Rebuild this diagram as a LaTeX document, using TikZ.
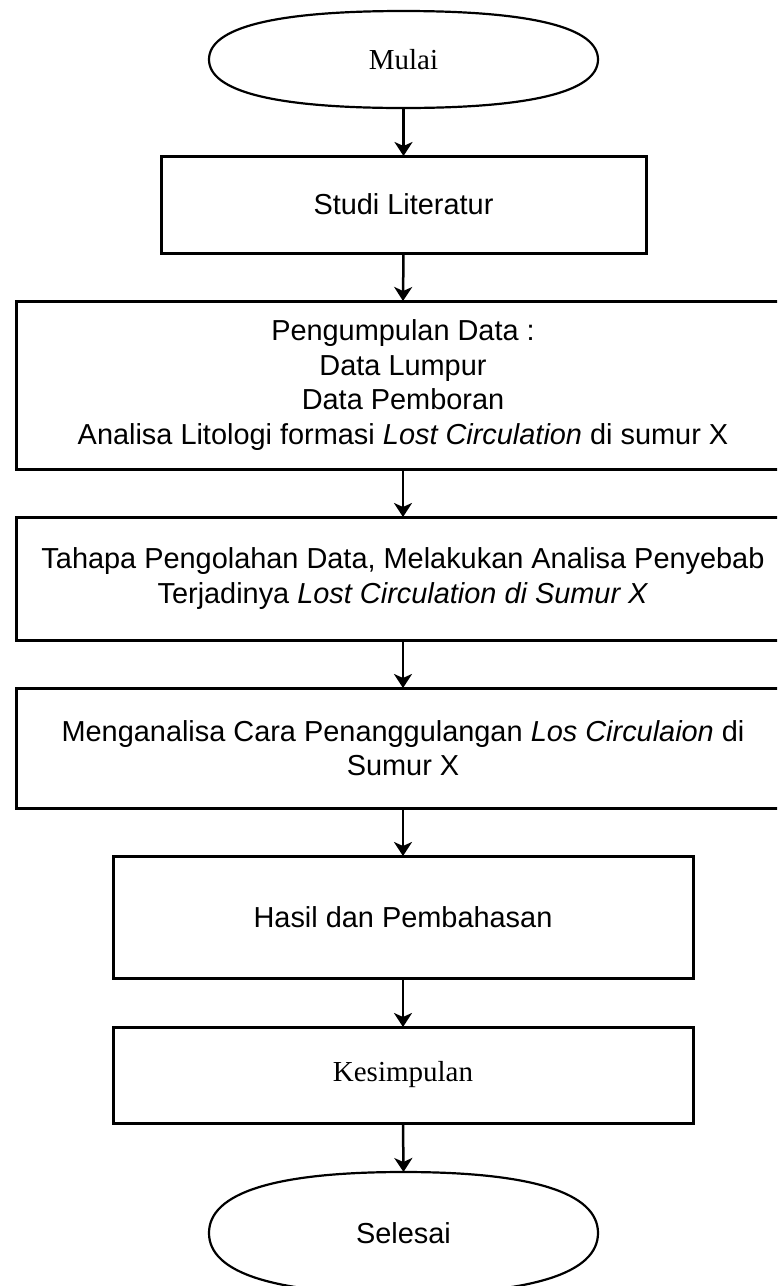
\documentclass[tikz,border=0pt]{standalone}
\usepackage{fontspec}
\setmainfont{Liberation Sans}
\newfontfamily\serifrm{Liberation Serif}
\usetikzlibrary{calc,arrows.meta}
\newcommand{\termshape}[1]{%
  \draw[termline] (#1.west)
    .. controls ($(#1.west)!0.66!(#1.north west)$) and ($(#1.north)!0.66!(#1.north west)$) .. (#1.north)
    .. controls ($(#1.north)!0.66!(#1.north east)$) and ($(#1.east)!0.66!(#1.north east)$) .. (#1.east)
    .. controls ($(#1.east)!0.66!(#1.south east)$) and ($(#1.south)!0.66!(#1.south east)$) .. (#1.south)
    .. controls ($(#1.south)!0.66!(#1.south west)$) and ($(#1.west)!0.66!(#1.south west)$) .. cycle;}
\tikzset{
  txt/.style={font=\fontsize{28.9}{34.5}\selectfont, align=center, inner sep=0pt, outer sep=0pt},
  stepbox/.style={txt, draw=black, line width=3pt, rectangle},
  termbox/.style={txt, rectangle, draw=none, minimum width=389pt},
  termline/.style={draw=black, line width=2.2pt},
  arr/.style={draw=black, line width=2.5pt, -{Stealth[length=14pt,width=18pt,inset=4pt]}}
}
\begin{document}
\begin{tikzpicture}[x=1pt,y=-1pt]
\useasboundingbox (0,0) rectangle (777,1286);
\clip (0,0) rectangle (777,1286);
\fill[white] (0,0) rectangle (777,1286);

\node[termbox, minimum height=97pt] (mulai) at (403.5,59.5) {\serifrm\fontsize{29}{34}\selectfont Mulai};
\termshape{mulai}

\node[stepbox, minimum width=485pt, minimum height=97pt] (studi) at (403.5,204.5) {Studi Literatur};

\node[stepbox, minimum width=774pt, minimum height=168pt] (data) at (403,385)
  {Pengumpulan Data :\\Data Lumpur\\Data Pemboran\\Analisa Litologi formasi \textit{Lost Circulation} di sumur X};

\node[stepbox, minimum width=774pt, minimum height=123pt] (olah) at (403,578.5)
  {Tahapa Pengolahan Data, Melakukan Analisa Penyebab\\Terjadinya \textit{Lost Circulation di Sumur X}};

\node[stepbox, minimum width=774pt, minimum height=120pt] (tangg) at (403,748)
  {Menganalisa Cara Penanggulangan \textit{Los Circulaion} di\\Sumur X};

\node[stepbox, minimum width=580pt, minimum height=122pt] (hasil) at (403,917) {Hasil dan Pembahasan};

\node[stepbox, minimum width=580pt, minimum height=96pt] (kesim) at (403,1075) {\serifrm\fontsize{29}{34}\selectfont Kesimpulan};

\node[termbox, minimum height=122pt] (selesai) at (403.5,1233) {Selesai};
\termshape{selesai}

\draw[arr] (mulai.south) -- (studi.north);
\draw[arr] (studi.south) -- (data.north);
\draw[arr] (data.south) -- (olah.north);
\draw[arr] (olah.south) -- (tangg.north);
\draw[arr] (tangg.south) -- (hasil.north);
\draw[arr] (hasil.south) -- (kesim.north);
\draw[arr] (kesim.south) -- (selesai.north);
\end{tikzpicture}
\end{document}
